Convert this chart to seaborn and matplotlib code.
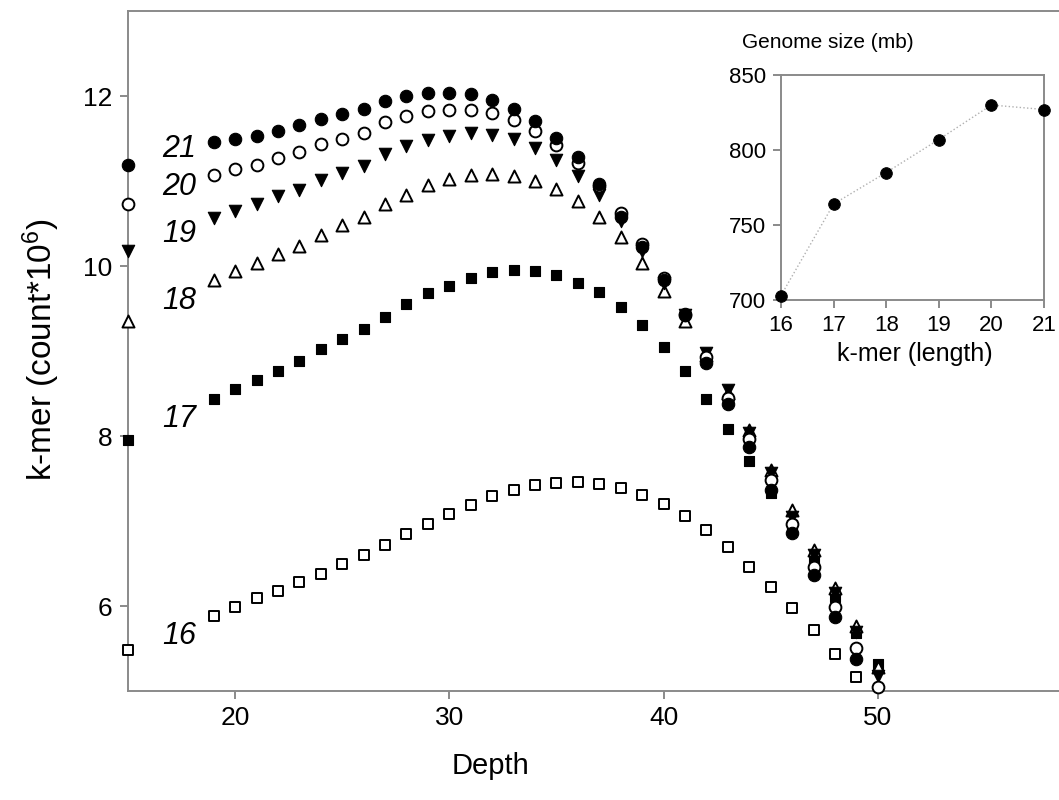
import matplotlib
matplotlib.use("Agg")
import matplotlib.pyplot as plt
import seaborn as sns
import pandas as pd

# ---------------- data ----------------
depth = [15] + list(range(19, 51))

k16 = [5.48, 5.88, 5.99, 6.09, 6.18, 6.28, 6.38, 6.49, 6.60, 6.72, 6.85, 6.97, 7.08, 7.19,
       7.29, 7.36, 7.42, 7.45, 7.46, 7.44, 7.39, 7.31, 7.20, 7.06, 6.89, 6.69, 6.46, 6.22,
       5.98, 5.72, 5.44, 5.17]
k17 = [7.95, 8.44, 8.55, 8.66, 8.77, 8.88, 9.02, 9.14, 9.26, 9.40, 9.55, 9.68, 9.77, 9.86,
       9.93, 9.95, 9.94, 9.89, 9.80, 9.70, 9.52, 9.30, 9.05, 8.76, 8.43, 8.08, 7.71, 7.33,
       6.95, 6.52, 6.11, 5.68, 5.32]
k18 = [9.35, 9.84, 9.94, 10.03, 10.14, 10.24, 10.36, 10.48, 10.58, 10.73, 10.84, 10.95,
       11.02, 11.07, 11.08, 11.06, 11.00, 10.91, 10.76, 10.58, 10.34, 10.04, 9.71, 9.35,
       8.95, 8.51, 8.07, 7.60, 7.13, 6.66, 6.21, 5.76, 5.28]
k19 = [10.18, 10.57, 10.65, 10.73, 10.82, 10.90, 11.01, 11.10, 11.18, 11.32, 11.41, 11.48,
       11.53, 11.56, 11.54, 11.49, 11.39, 11.25, 11.06, 10.84, 10.53, 10.18, 9.80, 9.42,
       8.98, 8.54, 8.04, 7.56, 7.05, 6.60, 6.15, 5.70, 5.18]
k20 = [10.73, 11.07, 11.14, 11.19, 11.27, 11.34, 11.43, 11.49, 11.57, 11.69, 11.76, 11.82,
       11.84, 11.84, 11.80, 11.72, 11.59, 11.42, 11.21, 10.94, 10.62, 10.26, 9.86, 9.42,
       8.93, 8.45, 7.97, 7.48, 6.97, 6.46, 5.99, 5.51, 5.05]
k21 = [11.19, 11.46, 11.50, 11.53, 11.59, 11.66, 11.73, 11.79, 11.85, 11.94, 12.00, 12.04,
       12.04, 12.02, 11.95, 11.85, 11.71, 11.51, 11.28, 10.97, 10.58, 10.22, 9.84, 9.43,
       8.86, 8.38, 7.87, 7.36, 6.86, 6.36, 5.87, 5.38]

series_names = ["16", "17", "18", "19", "20", "21"]
label_y = [5.65, 8.20, 9.59, 10.38, 10.93, 11.38]
label_x = 17.38

kmer_len = [16, 17, 18, 19, 20, 21]
genome_size = [703, 764, 785, 807, 830, 827]

x_ticks = [20, 30, 40, 50]
y_ticks = [6, 8, 10, 12]
inset_yticks = [700, 750, 800, 850]

# ---------------- style ----------------
sns.set_theme(style="white")
plt.rcParams["font.family"] = ["Liberation Sans", "DejaVu Sans"]
plt.rcParams["mathtext.fontset"] = "custom"
plt.rcParams["mathtext.rm"] = "Liberation Sans"
plt.rcParams["mathtext.it"] = "Liberation Sans:italic"
plt.rcParams["text.color"] = "black"
plt.rcParams["axes.labelcolor"] = "black"
plt.rcParams["xtick.color"] = "black"
plt.rcParams["ytick.color"] = "black"

GRAY = "#8a8a8a"

fig = plt.figure(figsize=(10.59, 8.0), dpi=100)
W, H = 1059.0, 800.0
ax = fig.add_axes([128 / W, 1 - 691 / H, (1092 - 128) / W, 680 / H])

styles = {
    "16": dict(marker="s", face="white", s=60, lw=1.4),
    "17": dict(marker="s", face="black", s=62, lw=0.8),
    "18": dict(marker="^", face="white", s=75, lw=1.4),
    "19": dict(marker="v", face="black", s=80, lw=0.8),
    "20": dict(marker="o", face="white", s=72, lw=1.4),
    "21": dict(marker="o", face="black", s=80, lw=0.8),
}
data = {"16": k16, "17": k17, "18": k18, "19": k19, "20": k20, "21": k21}

for i, name in enumerate(series_names):
    vals = data[name]
    df = pd.DataFrame({"Depth": depth[:len(vals)], "kmer": vals})
    st = styles[name]
    sns.scatterplot(data=df, x="Depth", y="kmer", marker=st["marker"], s=st["s"],
                    color=st["face"], edgecolor="black", linewidth=st["lw"],
                    ax=ax, clip_on=False, zorder=3 + i, legend=False)

for name, ly in zip(series_names, label_y):
    ax.text(label_x, ly, name, fontsize=22, style="italic", ha="center", va="center",
            color="black")

ax.set_xlim(15, 60)
ax.set_ylim(5, 13)
ax.set_xticks(x_ticks)
ax.set_yticks(y_ticks)
ax.set_xlabel("")
ax.set_ylabel("")
for side in ["left", "bottom", "top"]:
    ax.spines[side].set_color(GRAY)
    ax.spines[side].set_linewidth(1.4)
ax.spines["right"].set_visible(False)
ax.tick_params(direction="out", length=6, width=1.4, color=GRAY,
               labelsize=19, labelcolor="black", pad=5,
               bottom=True, left=True, top=False, right=False)

fig.text(490 / W, 1 - 766 / H, "Depth", fontsize=21, ha="center", va="center",
         color="black")
fig.text(41 / W, 1 - 350 / H, r"k-mer (count*10$^{\mathrm{6}}$)", fontsize=24,
         rotation=90, ha="center", va="center", color="black")

# ---------------- inset ----------------
ax2 = fig.add_axes([781 / W, 1 - 300 / H, 263 / W, 225 / H])
idf = pd.DataFrame({"k": kmer_len, "g": genome_size})
sns.lineplot(data=idf, x="k", y="g", ax=ax2, color="#b0b0b0", linestyle=":",
             linewidth=1.0, zorder=2)
sns.scatterplot(data=idf, x="k", y="g", ax=ax2, color="black", s=70,
                edgecolor="black", clip_on=False, zorder=3, legend=False)
ax2.set_xlim(16, 21)
ax2.set_ylim(700, 850)
ax2.set_xticks(kmer_len)
ax2.set_yticks(inset_yticks)
ax2.set_xlabel("")
ax2.set_ylabel("")
for side in ax2.spines:
    ax2.spines[side].set_color(GRAY)
    ax2.spines[side].set_linewidth(1.4)
ax2.tick_params(direction="out", length=6, width=1.4, color=GRAY,
                labelsize=16, labelcolor="black", pad=5,
                bottom=True, left=True, top=False, right=False)
fig.text(742 / W, 1 - 43 / H, "Genome size (mb)", fontsize=15, ha="left", va="center",
         color="black")
fig.text(915 / W, 1 - 354 / H, "k-mer (length)", fontsize=18, ha="center", va="center",
         color="black")

fig.savefig("out.png", dpi=100)
